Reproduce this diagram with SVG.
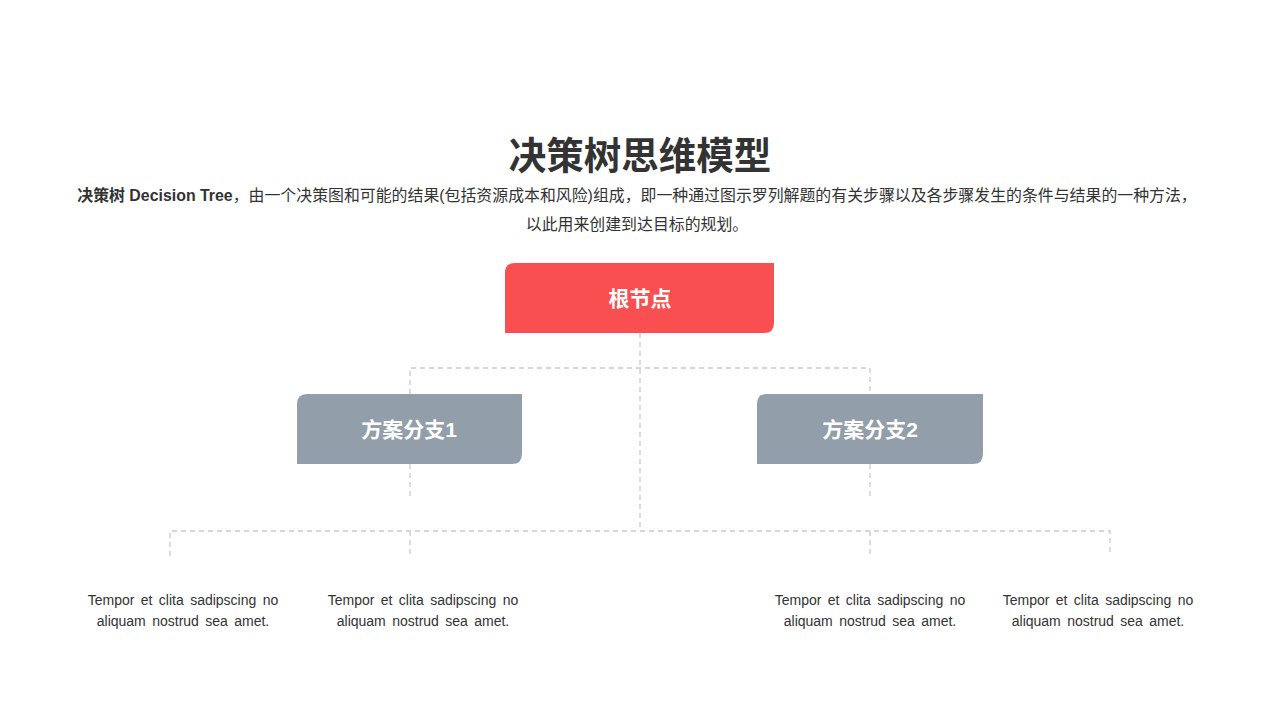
<svg xmlns="http://www.w3.org/2000/svg" width="1280" height="720" viewBox="0 0 1280 720">
<style>
.t{font-family:"Liberation Sans","Noto Sans CJK SC",sans-serif;fill:#333}
.title{font-size:37.5px;font-weight:bold}
.sub{font-size:15.9px}
.lbl{font-family:"Liberation Sans","Noto Sans CJK SC",sans-serif;font-size:21px;font-weight:bold;fill:#fff}
.leaf{font-size:14px;word-spacing:2.5px}
.dash{stroke:#c6cad0;stroke-width:1.3;stroke-dasharray:5 4;fill:none}
</style>
<rect width="1280" height="720" fill="#fff"/>
<text class="t title" x="640" y="169" text-anchor="middle">决策树思维模型</text>
<text class="t sub" x="637" y="201" text-anchor="middle"><tspan font-weight="bold">决策树 Decision Tree</tspan>，由一个决策图和可能的结果(包括资源成本和风险)组成，即一种通过图示罗列解题的有关步骤以及各步骤发生的条件与结果的一种方法，</text>
<text class="t sub" x="637" y="230" text-anchor="middle">以此用来创建到达目标的规划。</text>
<g id="connectors">
<path class="dash" d="M640 333 V531"/>
<path class="dash" d="M410 394 V368 H870 V394"/>
<path class="dash" d="M410 464 V500"/>
<path class="dash" d="M870 464 V500"/>
<path class="dash" d="M170 556 V531 H1110 V556"/>
<path class="dash" d="M410 531 V556"/>
<path class="dash" d="M870 531 V556"/>
</g>
<g id="root">
<path d="M515 263 H774 V323 Q774 333 764 333 H505 V273 Q505 263 515 263 Z" fill="#f94f50"/>
<text class="lbl" x="640" y="306" text-anchor="middle">根节点</text>
</g>
<g id="branch1">
<path d="M307 394 H522 V454 Q522 464 512 464 H297 V404 Q297 394 307 394 Z" fill="#929eaa"/>
<text class="lbl" x="409" y="437" text-anchor="middle">方案分支1</text>
</g>
<g id="branch2">
<path d="M767 394 H983 V454 Q983 464 973 464 H757 V404 Q757 394 767 394 Z" fill="#929eaa"/>
<text class="lbl" x="870" y="437" text-anchor="middle">方案分支2</text>
</g>
<g id="leaf1">
<text class="t leaf" x="183" y="605" text-anchor="middle">Tempor et clita sadipscing no</text>
<text class="t leaf" x="183" y="626" text-anchor="middle">aliquam nostrud sea amet.</text>
</g>
<g id="leaf2">
<text class="t leaf" x="423" y="605" text-anchor="middle">Tempor et clita sadipscing no</text>
<text class="t leaf" x="423" y="626" text-anchor="middle">aliquam nostrud sea amet.</text>
</g>
<g id="leaf3">
<text class="t leaf" x="870" y="605" text-anchor="middle">Tempor et clita sadipscing no</text>
<text class="t leaf" x="870" y="626" text-anchor="middle">aliquam nostrud sea amet.</text>
</g>
<g id="leaf4">
<text class="t leaf" x="1098" y="605" text-anchor="middle">Tempor et clita sadipscing no</text>
<text class="t leaf" x="1098" y="626" text-anchor="middle">aliquam nostrud sea amet.</text>
</g>
</svg>
